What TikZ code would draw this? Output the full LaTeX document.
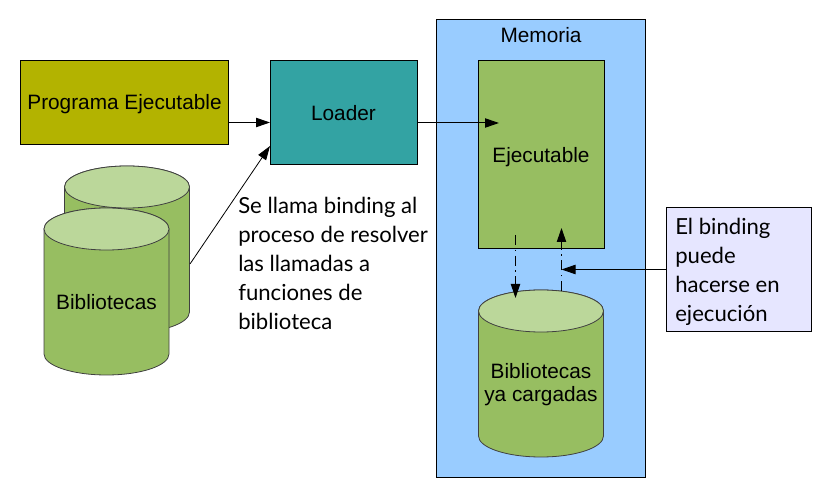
\documentclass[tikz,border=0pt]{standalone}
\usepackage{fontspec}
\setmainfont{Liberation Sans}
\newfontfamily\handfont{Lato}
\usetikzlibrary{arrows.meta}
\definecolor{olivebox}{HTML}{B3B300}
\definecolor{tealbox}{HTML}{33A3A3}
\definecolor{memblue}{HTML}{99CCFF}
\definecolor{cylgreen}{HTML}{97BE61}
\definecolor{cyltop}{HTML}{BBD79A}
\definecolor{notebox}{HTML}{E6E6FF}
% name, centre x, top y, height (all in reference pixels)
\newcommand{\cylnode}[4]{%
  \node[rectangle,inner sep=0pt,anchor=north,minimum width=93.75pt,minimum height=#4*0.75pt] (#1) at (#2,#3) {};
  \filldraw[cylline,fill=cylgreen] (#2-62.5,#3+21) -- (#2-62.5,#3+#4-21)
     arc[start angle=180,end angle=360,x radius=46.875pt,y radius=15.75pt]
     -- (#2+62.5,#3+21)
     arc[start angle=0,end angle=180,x radius=46.875pt,y radius=15.75pt] -- cycle;
  \filldraw[cylline,fill=cyltop] (#2,#3+21) ellipse[x radius=46.875pt,y radius=15.75pt];
}
\tikzset{
  x=0.75pt,y=-0.75pt,
  boxbase/.style={draw=black,line width=0.75pt,rectangle,inner sep=0pt,anchor=north west},
  cylline/.style={draw=black!75,line width=0.6pt},
  lab/.style={font=\fontsize{15.6}{17.4}\selectfont,inner sep=0pt,align=center},
  hand/.style={font=\handfont\fontsize{16.6}{21.75}\selectfont,inner sep=0pt,align=left,anchor=west},
  conn/.style={draw=black,line width=0.75pt,-{Triangle[length=10.5pt,width=7pt]}},
  thinconn/.style={draw=black,line width=0.6pt,-{Triangle[length=10.5pt,width=7pt]}},
  dashconn/.style={conn,dash pattern=on 7.5pt off 3.5pt on 1pt off 3.5pt},
}
\begin{document}
\begin{tikzpicture}
\useasboundingbox (0,0) rectangle (822,484);
\node[boxbase,fill=memblue,minimum width=156.75pt,minimum height=343.5pt] (mem) at (436,19) {};
\node[lab] (memt) at (541,35) {Memoria};
\node[boxbase,fill=olivebox,minimum width=156pt,minimum height=63pt] (prog) at (20,60) {};
\node[lab] (progt) at (124.5,104) {Programa Ejecutable};
\node[boxbase,fill=tealbox,minimum width=110.25pt,minimum height=78pt] (load) at (270,60) {};
\node[lab] (loadt) at (343.5,113) {Loader};
\node[boxbase,fill=cylgreen,minimum width=94.5pt,minimum height=141pt] (eje) at (478,60) {};
\node[lab] (ejet) at (541,157) {Ejecutable};
\cylnode{libb}{127}{166}{167}
\cylnode{libf}{106.5}{208}{167}
\node[lab] (libt) at (106.5,302) {Bibliotecas};
\cylnode{libm}{541}{290}{167}
\node[lab] (libmt) at (541,385) {Bibliotecas\\ya cargadas};
\node[boxbase,fill=notebox,minimum width=108.75pt,minimum height=93pt] (note) at (666,207) {};
\node[hand] (notet) at (675,272) {El binding\\puede\\hacerse en\\ejecución};
\node[hand] (bindt) at (238,263) {Se llama binding al\\proceso de resolver\\las llamadas a\\funciones de\\biblioteca};
\coordinate (dtop) at (515.5,235);
\coordinate (dbot) at (515.5,298);
\coordinate (utop) at (561.5,228);
\coordinate (ubot) at (561.5,291);
\coordinate (hit) at (561.5,269.5);
\coordinate (ein) at (499,123);
\coordinate (dfrom) at (190,264);
\draw[conn] (prog.east |- 0,122.5) -- (load.west |- 0,122.5);
\draw[conn] (load.east |- ein) -- (ein);
\draw[thinconn] (dfrom) -- ([yshift=14.25pt]load.south west);
\draw[dashconn] (dtop) -- (dbot);
\draw[dashconn] (ubot) -- (utop);
\draw[conn] (note.west |- hit) -- (hit);
\end{tikzpicture}
\end{document}
